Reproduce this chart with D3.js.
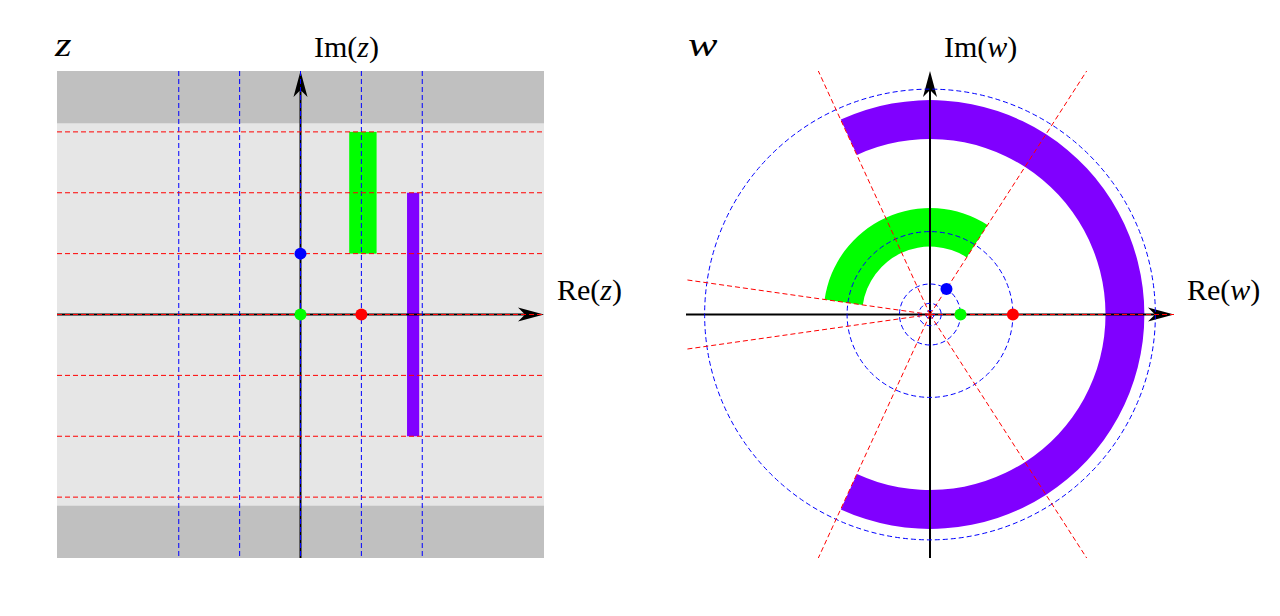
<!DOCTYPE html>
<html>
<head>
<meta charset="utf-8">
<script src="https://cdn.jsdelivr.net/npm/d3@7"></script>
<style>
  body { margin: 0; background: #fff; }
  text { font-family: "Liberation Serif", "Times New Roman", serif; fill: #000; }
</style>
</head>
<body>
<svg id="chart" width="1280" height="616"></svg>
<script>
// grid lines of the z-plane (Re = const -> circles, Im = const -> rays)
const reLines = [-2, -1, 0, 1, 2];
const imLines = [-3, -2, -1, 0, 1, 2, 3];
// rectangles in z and their images
const greenRe = [0.8, 1.25];
const greenIm = [1, 3];
const purpleRe = [1.75, 1.95];
const purpleIm = [-2, 2];
// marked points
const pointRe = [0, 0, 1];
const pointIm = [1, 0, 0];
const pointColors = ["#0000ff", "#00ff00", "#ff0000"];
const zExtent = [-4, 4];
const wExtent = [-8, 8];

const svg = d3.select("#chart");
const dash = "5,3";

const arrowPath = "M0,0 L-26,-7 L-19,0 L-26,7 Z";
const addArrow = (g, x, y, rot) =>
  g.append("path").attr("d", arrowPath).attr("fill", "#000")
    .attr("transform", `translate(${x},${y}) rotate(${rot})`);

const axisLabel = (x, y, head, v) => {
  const t = svg.append("text").attr("x", x).attr("y", y).attr("font-size", 30);
  t.append("tspan").text(head + "(");
  t.append("tspan").attr("font-style", "italic").text(v);
  t.append("tspan").text(")");
};
const planeLabel = (x, y, v, sx) =>
  svg.append("text").attr("x", x).attr("y", y).attr("font-size", 34)
    .attr("font-style", "italic")
    .attr("transform", `translate(${x},0) scale(${sx},1) translate(${-x},0)`).text(v);

// ---------- z plane ----------
const xz = d3.scaleLinear().domain(zExtent).range([57, 544]);
const yz = d3.scaleLinear().domain(zExtent).range([558, 71]);
const gz = svg.append("g");

gz.append("rect").attr("x", xz(-4)).attr("y", yz(4))
  .attr("width", xz(4) - xz(-4)).attr("height", yz(-4) - yz(4)).attr("fill", "#e6e6e6");
// |Im z| > pi bands
[[Math.PI, 4], [-4, -Math.PI]].forEach(([a, b]) => {
  gz.append("rect").attr("x", xz(-4)).attr("y", yz(b))
    .attr("width", xz(4) - xz(-4)).attr("height", yz(a) - yz(b)).attr("fill", "#c0c0c0");
});

const zRect = (re, im, color) =>
  gz.append("rect").attr("x", xz(re[0])).attr("y", yz(im[1]))
    .attr("width", xz(re[1]) - xz(re[0])).attr("height", yz(im[0]) - yz(im[1]))
    .attr("fill", color);
zRect(greenRe, greenIm, "#00ff00");
zRect(purpleRe, purpleIm, "#8000ff");

// axes
gz.append("line").attr("x1", xz(-4)).attr("x2", xz(4) - 10)
  .attr("y1", yz(0)).attr("y2", yz(0)).attr("stroke", "#000").attr("stroke-width", 2);
gz.append("line").attr("x1", xz(0)).attr("x2", xz(0))
  .attr("y1", yz(-4)).attr("y2", yz(4) + 10).attr("stroke", "#000").attr("stroke-width", 2);
addArrow(gz, xz(4), yz(0), 0);
addArrow(gz, xz(0), yz(4), -90);

// grid
gz.selectAll(".vline").data(reLines).enter().append("line")
  .attr("x1", d => xz(d)).attr("x2", d => xz(d))
  .attr("y1", yz(4)).attr("y2", yz(-4))
  .attr("stroke", "#0000ff").attr("stroke-width", 1).attr("stroke-dasharray", dash);
gz.selectAll(".hline").data(imLines).enter().append("line")
  .attr("x1", xz(-4)).attr("x2", xz(4))
  .attr("y1", d => yz(d)).attr("y2", d => yz(d))
  .attr("stroke", "#ff0000").attr("stroke-width", 1).attr("stroke-dasharray", dash);

gz.selectAll(".pt").data(pointRe).enter().append("circle")
  .attr("cx", (d, i) => xz(pointRe[i])).attr("cy", (d, i) => yz(pointIm[i]))
  .attr("r", 6).attr("fill", (d, i) => pointColors[i]);

planeLabel(55, 56, "z", 1.25);
axisLabel(314, 57, "Im", "z");
axisLabel(557, 300, "Re", "z");

// ---------- w plane ----------
const xw = d3.scaleLinear().domain(wExtent).range([686, 1174]);
const yw = d3.scaleLinear().domain(wExtent).range([558, 71]);
const gw = svg.append("g");
const ox = xw(0), oy = yw(0);
const rad = v => xw(v) - xw(0);

svg.append("defs").append("clipPath").attr("id", "wclip").append("rect")
  .attr("x", xw(-8)).attr("y", yw(8)).attr("width", xw(8) - xw(-8)).attr("height", yw(-8) - yw(8));

const wArc = (re, im, color) =>
  gw.append("path")
    .attr("d", d3.arc()({
      innerRadius: rad(Math.exp(re[0])), outerRadius: rad(Math.exp(re[1])),
      startAngle: Math.PI / 2 - im[1], endAngle: Math.PI / 2 - im[0]
    }))
    .attr("transform", `translate(${ox},${oy})`).attr("fill", color);
wArc(greenRe, greenIm, "#00ff00");
wArc(purpleRe, purpleIm, "#8000ff");

gw.append("line").attr("x1", xw(-8)).attr("x2", xw(8) - 10)
  .attr("y1", oy).attr("y2", oy).attr("stroke", "#000").attr("stroke-width", 2);
gw.append("line").attr("x1", ox).attr("x2", ox)
  .attr("y1", yw(-8)).attr("y2", yw(8) + 10).attr("stroke", "#000").attr("stroke-width", 2);
addArrow(gw, xw(8), oy, 0);
addArrow(gw, ox, yw(8), -90);

gw.selectAll(".circ").data(reLines).enter().append("circle")
  .attr("cx", ox).attr("cy", oy).attr("r", d => rad(Math.exp(d)))
  .attr("fill", "none").attr("stroke", "#0000ff").attr("stroke-width", 1).attr("stroke-dasharray", dash);

const rayLen = 12;
gw.append("g").attr("clip-path", "url(#wclip)")
  .selectAll("line").data(imLines).enter().append("line")
  .attr("x1", ox).attr("y1", oy)
  .attr("x2", d => xw(rayLen * Math.cos(d))).attr("y2", d => yw(rayLen * Math.sin(d)))
  .attr("stroke", "#ff0000").attr("stroke-width", 1).attr("stroke-dasharray", dash);

gw.selectAll(".pt").data(pointRe).enter().append("circle")
  .attr("cx", (d, i) => xw(Math.exp(pointRe[i]) * Math.cos(pointIm[i])))
  .attr("cy", (d, i) => yw(Math.exp(pointRe[i]) * Math.sin(pointIm[i])))
  .attr("r", 6).attr("fill", (d, i) => pointColors[i]);

planeLabel(688, 56, "w", 1.3);
axisLabel(944, 57, "Im", "w");
axisLabel(1187, 300, "Re", "w");
</script>
</body>
</html>
